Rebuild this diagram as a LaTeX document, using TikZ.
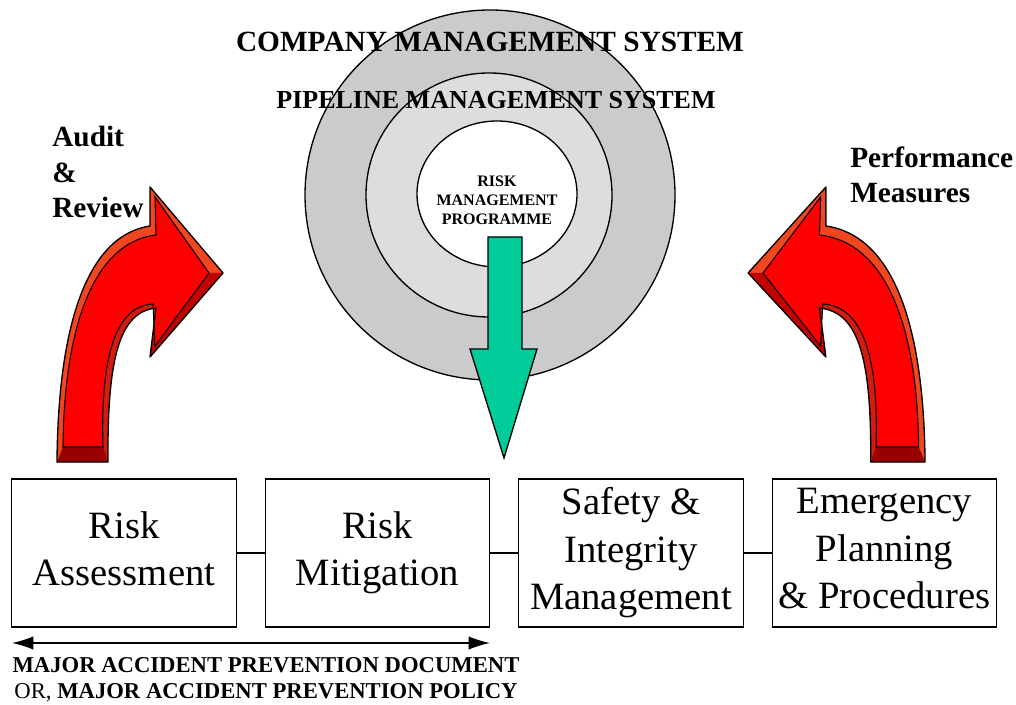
\documentclass[tikz,border=0pt]{standalone}
\usepackage{fontspec}
\setmainfont{Liberation Serif}
\usetikzlibrary{arrows.meta, positioning}

\definecolor{outergray}{HTML}{CBCBCB}
\definecolor{innergray}{HTML}{DDDDDD}
\definecolor{arrowgreen}{HTML}{00CC99}
\definecolor{bevellight}{HTML}{F2461E}
\definecolor{bevelmid}{HTML}{D41C0C}
\definecolor{beveldark}{HTML}{C20000}
\definecolor{bevelcap}{HTML}{990000}

\tikzset{
  stage/.style={rectangle, draw, line width=0.8pt, minimum width=168.5pt, minimum height=111pt,
    align=center, font=\fontsize{29}{35.5}\selectfont,
    execute at begin node={\rule{0pt}{38pt}}, execute at end node={\rule[-6.5pt]{0pt}{0pt}}},
  heading/.style={font=\bfseries\fontsize{22}{26.5}\selectfont, inner sep=0pt}
}

% the bent 3d arrow, drawn at its left-hand place
\newcommand{\drawbendarrow}{%
  % bevel sides
  \fill[bevellight] (57,462) .. controls (58,330) and (85,236) .. (150,226) -- (150,187) -- (223,273)
    -- (150,357) -- (156,308) .. controls (122,312) and (107,350) .. (108,462) -- cycle;
  \fill[beveldark] (223,273) -- (150,357) -- (155,346) -- (209,273) -- cycle;
  \fill[beveldark] (150,357) -- (156,308) -- (153,304) -- (155,346) -- cycle;
  \fill[bevelmid] (156,308) .. controls (122,312) and (107,350) .. (108,462) -- (103,447)
    .. controls (100,345) and (120,306) .. (153,304) -- cycle;
  \fill[bevelcap] (57,462) -- (108,462) -- (103,447) -- (63,447) -- cycle;
  % front face
  \draw[fill=red, line width=0.8pt] (63,447) .. controls (64,335) and (90,243) .. (156,235) -- (155,197)
    -- (209,273) -- (155,346) -- (153,304) .. controls (120,306) and (100,345) .. (103,447) -- cycle;
  % outline
  \draw[line width=1pt, line join=round] (57,462) .. controls (58,330) and (85,236) .. (150,226) -- (150,187)
    -- (223,273) -- (150,357) -- (156,308) .. controls (122,312) and (107,350) .. (108,462) -- cycle;
}

\begin{document}
\begin{tikzpicture}[x=0.75pt, y=-0.75pt]
  \useasboundingbox (0,0) rectangle (1016,705);

  % Draw the management rings
  \draw[fill=outergray, line width=1pt] (490,195) ellipse [x radius=138.75pt, y radius=138.75pt];
  \draw[fill=innergray, line width=1pt] (489,195) ellipse [x radius=92.25pt, y radius=91.5pt];
  \draw[fill=white, line width=1pt] (497,194) ellipse [x radius=60pt, y radius=54.75pt];

  % Create the ring labels
  \node (company) [heading] at (490,42) {COMPANY MANAGEMENT SYSTEM};
  \node (pipeline) [heading, font=\bfseries\fontsize{19.5}{23}\selectfont] at (496,100) {PIPELINE MANAGEMENT SYSTEM};
  \node (programme) [heading, align=center, font=\bfseries\fontsize{12}{14.3}\selectfont] at (497,200) {RISK\\MANAGEMENT\\PROGRAMME};

  % Draw the programme arrow
  \draw[fill=arrowgreen, line width=1pt] (488,237) -- (522,237) -- (522,349) -- (537,349) -- (504,458)
    -- (470,349) -- (488,349) -- cycle;

  % Draw the feedback arrows
  \drawbendarrow
  \begin{scope}[shift={(985.8,0)}, xscale=-1.066]
    \drawbendarrow
  \end{scope}

  \node (audit) [heading, anchor=west, align=left] at (52,172) {Audit\\\&\\Review};
  \node (measures) [heading, anchor=west, align=left] at (850,175) {Performance\\Measures};

  % Create the nodes
  \node (assessment) [stage] at (124,553) {Risk\\Assessment};
  \node (mitigation) [stage] at (377.5,553) {Risk\\Mitigation};
  \node (integrity) [stage] at (631,553) {Safety \&\\Integrity\\Management};
  \node (emergency) [stage] at (884.5,553) {Emergency\\Planning\\\& Procedures};

  \draw[line width=0.8pt] (assessment) -- (mitigation);
  \draw[line width=0.8pt] (mitigation) -- (integrity);
  \draw[line width=0.8pt] (integrity) -- (emergency);

  % Draw the document span
  \coordinate (span start) at (12,643);
  \coordinate (span end) at (490,643);
  \draw[{Latex[length=16pt,width=10pt]}-{Latex[length=16pt,width=10pt]}, line width=1pt] (span start) -- (span end);
  \node (document) [align=center, inner sep=0pt, font=\fontsize{17}{19.5}\selectfont] at (266,680)
    {\textbf{MAJOR ACCIDENT PREVENTION DOCUMENT}\\OR, \textbf{MAJOR ACCIDENT PREVENTION POLICY}};
\end{tikzpicture}
\end{document}
